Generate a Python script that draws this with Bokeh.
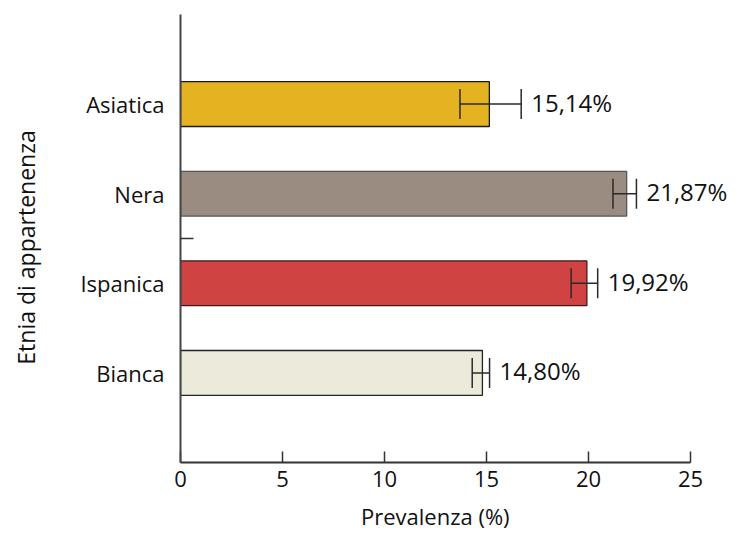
from bokeh.plotting import figure
from bokeh.models import ColumnDataSource, Range1d, FixedTicker, Whisker, TeeHead
from bokeh.core.properties import value
from bokeh.embed import file_html
from bokeh.resources import INLINE

# Data
categories = ["Bianca", "Ispanica", "Nera", "Asiatica"]
prevalence = [14.80, 19.92, 21.87, 15.14]
err_lower = [14.30, 19.15, 21.20, 13.70]
err_upper = [15.15, 20.45, 22.35, 16.70]
x_ticks = [0, 5, 10, 15, 20, 25]
x_title = "Prevalenza (%)"
y_title = "Etnia di appartenenza"

# Styles
fill_colors = ["#ECEADA", "#D04343", "#9A8C80", "#E5B322"]
line_colors = ["#222222", "#3a1a1a", "#555555", "#1a1a1a"]

ypos = list(range(len(categories)))
labels = [("%.2f" % v).replace(".", ",") + "%" for v in prevalence]

src = ColumnDataSource(dict(
    y=ypos, v=prevalence, lo=err_lower, hi=err_upper,
    fill=fill_colors, line=line_colors, lab=labels,
))

FONT = "Open Sans"
NBSP = "\u00a0"

p = figure(width=745, height=533, output_backend="svg", toolbar_location=None,
           x_range=Range1d(0, 27.5), y_range=Range1d(-1, 4.0),
           min_border_left=180, min_border_right=4, min_border_top=14, min_border_bottom=71)
p.outline_line_color = None
p.xgrid.grid_line_color = None
p.ygrid.grid_line_color = None
p.background_fill_color = "white"
p.border_fill_color = "white"

p.hbar(y="y", right="v", left=0, height=0.5, fill_color="fill", line_color="line",
       line_width=1.3, source=src)

w = Whisker(source=src, base="y", lower="lo", upper="hi", dimension="width",
            line_color="#2a2a2a", line_width=1.5, level="overlay",
            lower_head=TeeHead(size=30, line_color="#2a2a2a", line_width=1.5),
            upper_head=TeeHead(size=30, line_color="#2a2a2a", line_width=1.5))
p.add_layout(w)

p.text(x="hi", y="y", text="lab", x_offset=10, y_offset=-2, source=src,
       text_font=value(FONT), text_font_size="24px", text_color="#111111",
       text_baseline="middle", text_align="left")

# X axis
xa = p.xaxis[0]
xa.ticker = FixedTicker(ticks=x_ticks)
xa.bounds = (0, 25)
# trailing no-break spaces centre the visible title on the 0-25 span
xa.axis_label = x_title + NBSP * 9
xa.axis_label_text_font = FONT
xa.axis_label_text_font_size = "22px"
xa.axis_label_text_font_style = "normal"
xa.axis_label_text_color = "#111111"
xa.axis_label_standoff = 11
xa.major_label_text_font = FONT
xa.major_label_text_font_size = "22px"
xa.major_label_text_color = "#111111"
xa.major_label_standoff = 8
xa.major_tick_in = 11
xa.major_tick_out = 0
xa.major_tick_line_color = "#333333"
xa.major_tick_line_width = 1.5
xa.minor_tick_line_color = None
xa.axis_line_color = "#333333"
xa.axis_line_width = 2

# Y axis
ya = p.yaxis[0]
ya.ticker = FixedTicker(ticks=ypos, minor_ticks=[1.5])
ya.major_label_overrides = {i: c for i, c in zip(ypos, categories)}
ya.axis_label = y_title + NBSP * 3
ya.axis_label_text_font = FONT
ya.axis_label_text_font_size = "23px"
ya.axis_label_text_font_style = "normal"
ya.axis_label_text_color = "#111111"
ya.axis_label_standoff = 35
ya.major_label_text_font = FONT
ya.major_label_text_font_size = "22px"
ya.major_label_text_color = "#111111"
ya.major_label_standoff = 16
ya.major_tick_line_color = None
ya.major_tick_in = 0
ya.major_tick_out = 0
ya.minor_tick_in = 13
ya.minor_tick_out = 0
ya.minor_tick_line_color = "#333333"
ya.minor_tick_line_width = 1.5
ya.axis_line_color = "#444444"
ya.axis_line_width = 2

open("out.html", "w").write(file_html(p, INLINE))
